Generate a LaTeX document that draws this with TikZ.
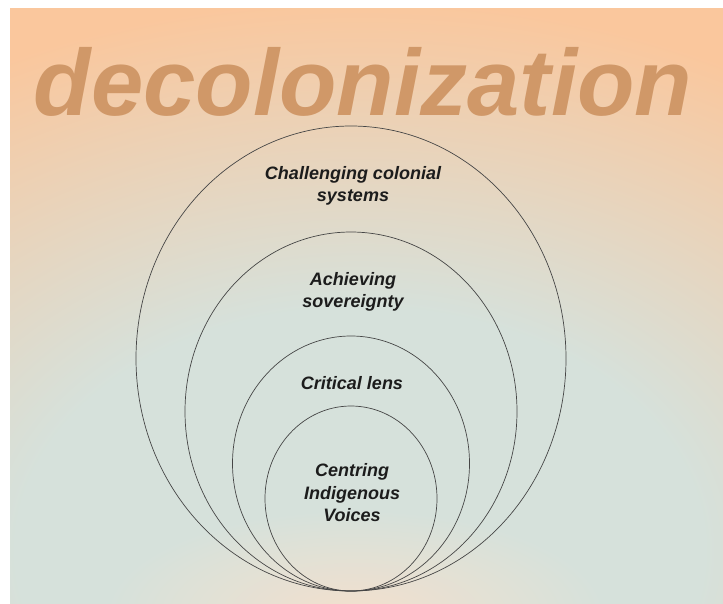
\documentclass[tikz,border=0pt]{standalone}
\usepackage{fontspec}
\setmainfont{Liberation Sans}
\definecolor{bgP}{RGB}{250,199,157}
\definecolor{bgG}{RGB}{214,225,219}
\definecolor{glowP}{RGB}{243,224,205}
\definecolor{titlec}{RGB}{208,152,104}
\definecolor{linec}{RGB}{70,70,70}
\definecolor{textc}{RGB}{28,28,28}
\pgfdeclareradialshading{bgrad}{\pgfpoint{0bp}{0bp}}{color(0bp)=(bgG); color(11bp)=(bgG); color(25bp)=(bgP); color(50bp)=(bgP)}
\pgfdeclareradialshading{glow}{\pgfpoint{0bp}{0bp}}{color(0bp)=(glowP); color(25bp)=(bgG); color(50bp)=(bgG)}
\tikzset{
  ring/.style={draw=linec, line width=0.7pt},
  lbl/.style={text=textc, font=\fontsize{18}{22.5}\selectfont\bfseries\itshape, align=center, inner sep=0pt},
}
\begin{document}
\begin{tikzpicture}[x=1pt,y=-1pt]
\useasboundingbox (0,0) rectangle (723,603);
\fill[white] (0,0) rectangle (723,603);
\begin{scope}
\clip (10,8) rectangle (723,603);
\shade[shading=bgrad] (-420,0) rectangle (1140,1100);
\shade[shading=glow] (355,615) ellipse [x radius=250, y radius=105];
\end{scope}
\node[anchor=base, text=titlec, font=\fontsize{94}{94}\selectfont\bfseries\itshape, inner sep=0pt] (title) at (363,115) {decolonization};
\draw[ring] (351,358.5) ellipse [x radius=215, y radius=232.5];
\draw[ring] (351,411.5) ellipse [x radius=166, y radius=179.5];
\draw[ring] (351,463.5) ellipse [x radius=118.5, y radius=127.5];
\draw[ring] (351,498.5) ellipse [x radius=86, y radius=92.5];
\node[lbl] (l1) at (353,186) {Challenging colonial\\systems};
\node[lbl] (l2) at (353,292) {Achieving\\sovereignty};
\node[lbl] (l3) at (352,383) {Critical lens};
\node[lbl] (l4) at (352,493) {Centring\\Indigenous\\Voices};
\end{tikzpicture}
\end{document}
